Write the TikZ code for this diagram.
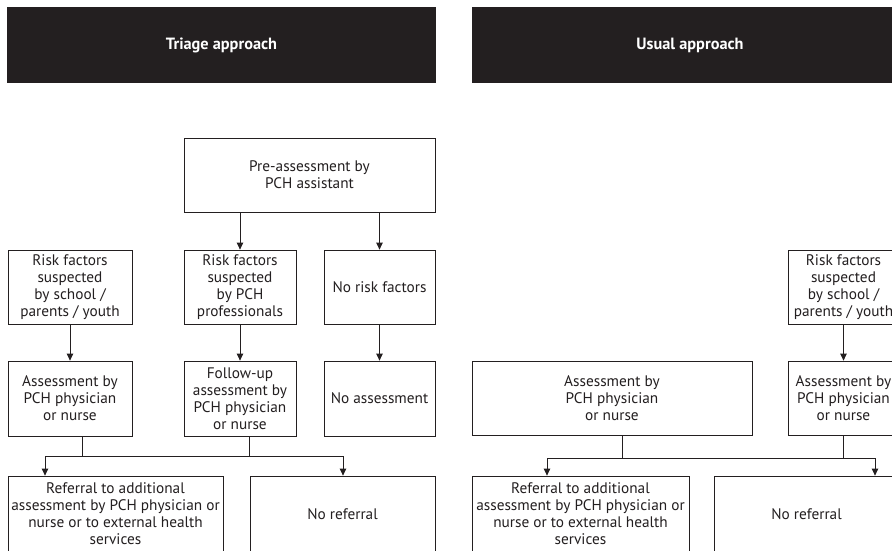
\documentclass[tikz,border=0pt]{standalone}
\usepackage{fontspec}
\setmainfont{PT Sans}
\usetikzlibrary{arrows.meta}
\definecolor{ink}{HTML}{231F20}
\tikzset{
  box/.style={draw=ink, line width=0.8pt, inner sep=0.5pt, align=center,
    font=\fontsize{15.3}{17}\selectfont, text=ink},
  hdr/.style={fill=ink, draw=none, text=white, font=\fontsize{16.3}{18}\selectfont\bfseries},
  line/.style={draw=ink, line width=0.8pt},
  arr/.style={line, -{Triangle[width=6.5pt,length=7pt]}}
}
\begin{document}
\begin{tikzpicture}[x=1pt,y=-1pt]
\useasboundingbox (0,0) rectangle (892,550);
\clip (0,0) rectangle (892,550);
\fill[white] (0,0) rectangle (892,550);
% headers
\node[hdr, minimum width=429pt, minimum height=76pt] (hL) at (221.5,45) {Triage approach};
\node[hdr, minimum width=436pt, minimum height=76pt] (hR) at (690,45) {Usual approach};
% left panel
\node[box, minimum width=251pt, minimum height=74pt] (pre) at (309.5,175) {Pre-assessment by\\PCH assistant};
\node[box, minimum width=124pt, minimum height=74pt] (riskL) at (70,287) {Risk factors\\suspected\\by school /\\parents / youth};
\node[box, minimum width=112pt, minimum height=74pt] (riskM) at (240,287) {Risk factors\\suspected\\by PCH\\professionals};
\node[box, minimum width=111pt, minimum height=74pt] (noRisk) at (379.5,287) {No risk factors};
\node[box, minimum width=124pt, minimum height=75pt] (assL) at (70,398.5) {Assessment by\\PCH physician\\or nurse};
\node[box, minimum width=112pt, minimum height=75pt] (fu) at (240,398.5) {Follow-up\\assessment by\\PCH physician\\or nurse};
\node[box, minimum width=111pt, minimum height=75pt] (noAss) at (379.5,398.5) {No assessment};
\node[box, minimum width=215pt, minimum height=76pt] (ref) at (115.5,514) {Referral to additional\\assessment by PCH physician or\\nurse or to external health\\services};
\node[box, minimum width=185pt, minimum height=76pt] (noref) at (342.5,514) {No referral};
% right panel
\node[box, minimum width=111pt, minimum height=74pt] (riskR) at (843.5,287) {Risk factors\\suspected\\by school /\\parents / youth};
\node[box, minimum width=280pt, minimum height=74pt] (big) at (612,398) {Assessment by\\PCH physician\\or nurse};
\node[box, minimum width=111pt, minimum height=74pt] (assR) at (843.5,398) {Assessment by\\PCH physician\\or nurse};
\node[box, minimum width=217pt, minimum height=76pt] (ref2) at (580.5,514) {Referral to additional\\assessment by PCH physician or\\nurse or to external health\\services};
\node[box, minimum width=185pt, minimum height=76pt] (noref2) at (806.5,514) {No referral};
% connectors left
\draw[arr] (riskM.north |- pre.south) -- (riskM.north);
\draw[arr] (noRisk.north |- pre.south) -- (noRisk.north);
\draw[arr] (riskL) -- (assL);
\draw[arr] (riskM) -- (fu);
\draw[arr] (noRisk) -- (noAss);
\coordinate (bL1) at (45,456);
\coordinate (bL2) at (343,456);
\draw[line] ([xshift=12pt]assL.south) |- (bL1);
\draw[line] ([xshift=9pt]fu.south) |- (bL2);
\draw[line] (bL1) -- (bL2);
\draw[arr] (bL1) -- (bL1 |- ref.north);
\draw[arr] (bL2) -- (bL2 |- noref.north);
% connectors right
\draw[arr] (riskR) -- (assR);
\coordinate (bR1) at (547,458);
\coordinate (bR2) at (875,458);
\draw[line] ([xshift=10pt]big.south) |- (bR1);
\draw[line] (assR.south) |- (bR2);
\draw[line] (bR1) -- (bR2);
\draw[arr] (bR1) -- (bR1 |- ref2.north);
\draw[arr] (bR2) -- (bR2 |- noref2.north);
\end{tikzpicture}
\end{document}
